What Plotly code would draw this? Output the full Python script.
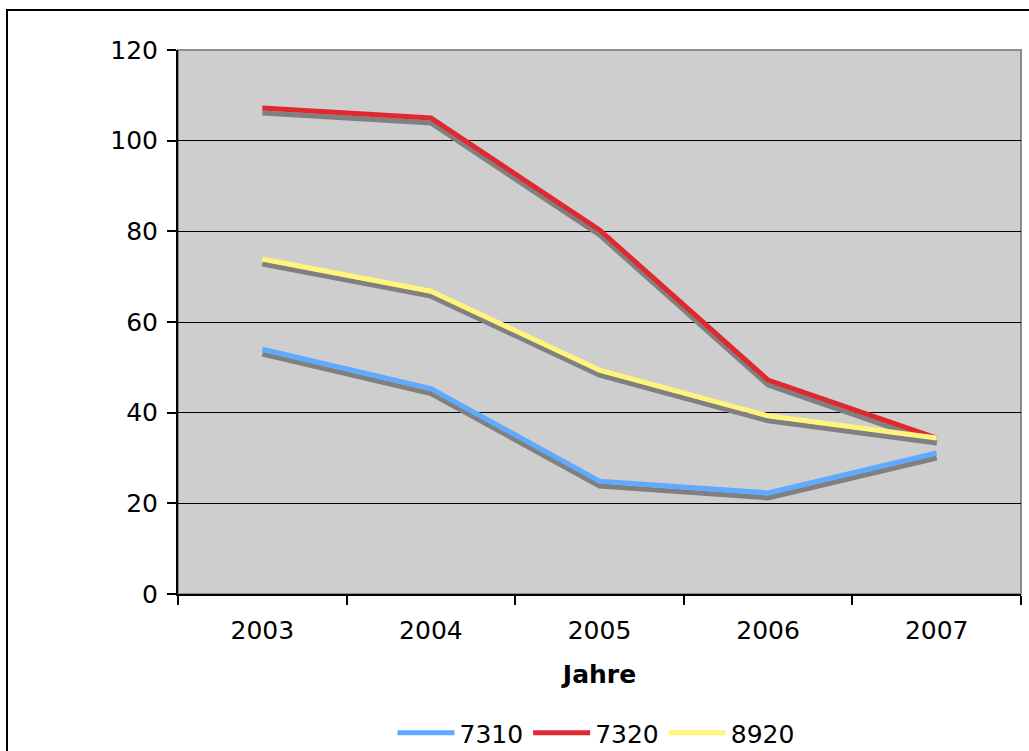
import plotly.graph_objects as go

years = ["2003", "2004", "2005", "2006", "2007"]
s7310 = [54.0, 45.3, 24.9, 22.3, 31.1]
s7320 = [107.2, 105.0, 80.3, 47.2, 34.4]
s8920 = [73.9, 66.8, 49.4, 39.3, 34.4]
names = ["7310", "7320", "8920"]
colors = ["#5eaaff", "#e0282f", "#fff57d"]
y_ticks = [0, 20, 40, 60, 80, 100, 120]

FONT = "DejaVu Sans"
FS = 25
W, H = 1029, 751
L, R, T, B = 178, 1021, 50, 594
shadow_shift = 1.1

fig = go.Figure()
series = [s7310, s7320, s8920]
for vals in series:
    fig.add_trace(go.Scatter(x=years, y=vals, mode="lines", yaxis="y",
                             line=dict(color="#808080", width=5),
                             showlegend=False, hoverinfo="skip"))
for name, vals, col in zip(names, series, colors):
    fig.add_trace(go.Scatter(x=years, y=vals, mode="lines", name=name, yaxis="y2",
                             line=dict(color=col, width=5)))

pw = R - L
ph = B - T
fig.update_layout(
    width=W, height=H,
    margin=dict(l=L, r=W - R, t=T, b=H - B, pad=0, autoexpand=False),
    paper_bgcolor="white",
    plot_bgcolor="#cecece",
    font=dict(family=FONT, size=FS, color="black"),
    xaxis=dict(type="category", range=[-0.5, 4.5], tickson="boundaries",
               ticks="outside", ticklen=9, tickcolor="black", tickwidth=1.5,
               showline=True, linecolor="black", linewidth=2,
               showgrid=False, tickfont=dict(size=FS), ticklabelstandoff=13,
               title=dict(text="<b>Jahre</b>", font=dict(size=FS), standoff=21)),
    yaxis=dict(range=[shadow_shift, 120 + shadow_shift], visible=False,
               showgrid=False, zeroline=False),
    yaxis2=dict(range=[0, 120], overlaying="y", side="left", tickvals=y_ticks,
                ticks="outside", ticklen=9, tickcolor="black", tickwidth=1.5,
                showline=True, linecolor="black", linewidth=2,
                showgrid=True, gridcolor="black", gridwidth=1,
                zeroline=False, tickfont=dict(size=FS), ticklabelstandoff=4),
    legend=dict(orientation="h", x=(596 - L) / pw, xanchor="center",
                y=-(733 - B) / ph, yanchor="middle", font=dict(size=FS),
                itemwidth=57, bgcolor="rgba(0,0,0,0)"),
    shapes=[
        dict(type="rect", xref="paper", yref="paper", x0=0, x1=1, y0=0, y1=1,
             line=dict(color="#8c8c8c", width=2), layer="below"),
        dict(type="rect", xref="paper", yref="paper",
             x0=(7 - L) / pw, x1=(W + 5 - L) / pw,
             y0=(B - (H + 5)) / ph, y1=(B - 10) / ph,
             line=dict(color="black", width=2), layer="above"),
    ],
)

fig.write_html("out.html", config={"displayModeBar": False},
               post_script="document.body.style.margin='0';document.body.style.overflow='hidden';")
